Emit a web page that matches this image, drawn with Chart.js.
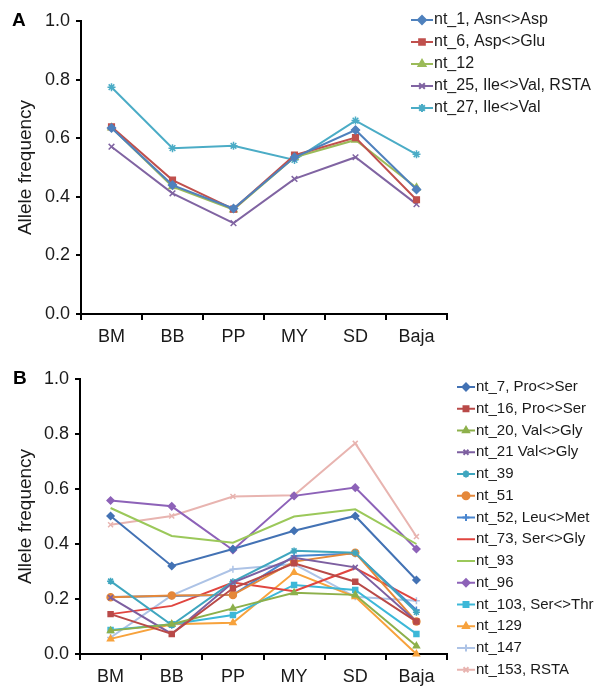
<!DOCTYPE html>
<html>
<head>
<meta charset="utf-8">
<script src="https://cdn.jsdelivr.net/npm/chart.js@4"></script>
<style>
  body { margin: 0; background: #fff; }
  canvas { display: block; }
</style>
</head>
<body>
<canvas id="chartA" width="601" height="350"></canvas>
<canvas id="chartB" width="601" height="340"></canvas>
<script>
// populations along the x axis
const populations = ["BM", "BB", "PP", "MY", "SD", "Baja"];
const yTicks = [0, 0.2, 0.4, 0.6, 0.8, 1.0];

// panel A
const namesA = ["nt_1, Asn<>Asp", "nt_6, Asp<>Glu", "nt_12", "nt_25, Ile<>Val, RSTA", "nt_27, Ile<>Val"];
const nt_1   = [0.635, 0.440, 0.360, 0.535, 0.628, 0.425];
const nt_6   = [0.639, 0.457, 0.358, 0.542, 0.602, 0.390];
const nt_12  = [0.636, 0.435, 0.356, 0.535, 0.594, 0.431];
const nt_25  = [0.571, 0.412, 0.310, 0.461, 0.535, 0.375];
const nt_27  = [0.774, 0.566, 0.574, 0.526, 0.660, 0.545];

// panel B
const namesB = ["nt_7, Pro<>Ser", "nt_16, Pro<>Ser", "nt_20, Val<>Gly", "nt_21 Val<>Gly", "nt_39", "nt_51",
  "nt_52, Leu<>Met", "nt_73, Ser<>Gly", "nt_93", "nt_96", "nt_103, Ser<>Thr", "nt_129", "nt_147", "nt_153, RSTA"];
const nt_7   = [0.502, 0.320, 0.382, 0.448, 0.502, 0.269];
const nt_16  = [0.145, 0.073, 0.239, 0.330, 0.263, 0.118];
const nt_20  = [0.085, 0.108, 0.166, 0.223, 0.215, 0.029];
const nt_21  = [0.205, 0.073, 0.260, 0.350, 0.315, 0.118];
const nt_39  = [0.265, 0.105, 0.263, 0.375, 0.368, 0.152];
const nt_51  = [0.206, 0.213, 0.215, 0.336, 0.368, 0.118];
const nt_52  = [0.207, 0.211, 0.215, 0.356, 0.365, 0.160];
const nt_73  = [0.145, 0.175, 0.260, 0.228, 0.312, 0.194];
const nt_93  = [0.531, 0.429, 0.405, 0.500, 0.526, 0.400];
const nt_96  = [0.558, 0.537, 0.378, 0.575, 0.605, 0.382];
const nt_103 = [0.087, 0.108, 0.142, 0.251, 0.233, 0.073];
const nt_129 = [0.055, 0.108, 0.114, 0.296, 0.208, 0.000];
const nt_147 = [0.060, 0.213, 0.308, 0.327, 0.208, 0.194];
const nt_153 = [0.470, 0.502, 0.573, 0.577, 0.766, 0.427];

const FONT = "'Liberation Sans', Arial, Helvetica, sans-serif";
const TEXT = "#1a1a1a";

function makeSet(label, data, color, marker, radius) {
  return {
    label: label,
    data: data,
    borderColor: color,
    backgroundColor: color,
    pointBackgroundColor: color,
    pointBorderColor: color,
    pointStyle: marker || "circle",
    pointRadius: marker ? radius : 0,
    pointHoverRadius: marker ? radius : 0,
    pointBorderWidth: 1.5,
    borderWidth: 2,
    tension: 0,
    clip: false
  };
}

// legend beside the plot, line + marker + text
const sideLegend = {
  id: "sideLegend",
  afterDraw(chart, args, opts) {
    const ctx = chart.ctx;
    ctx.save();
    ctx.textBaseline = "middle";
    ctx.textAlign = "left";
    chart.data.datasets.forEach((ds, i) => {
      const y = opts.y + i * opts.step;
      ctx.strokeStyle = ds.borderColor;
      ctx.lineWidth = 2;
      ctx.beginPath();
      ctx.moveTo(opts.x, y);
      ctx.lineTo(opts.x + opts.len, y);
      ctx.stroke();
      if (ds.pointRadius > 0) {
        ctx.fillStyle = ds.pointBackgroundColor;
        Chart.helpers.drawPoint(ctx, {
          pointStyle: ds.pointStyle, radius: ds.pointRadius, rotation: 0, borderWidth: 1.5
        }, opts.x + opts.len / 2, y);
      }
      ctx.fillStyle = TEXT;
      ctx.font = opts.size + "px " + FONT;
      ctx.fillText(ds.label, opts.x + opts.len + 1, y);
    });
    ctx.font = "bold 19px " + FONT;
    ctx.fillStyle = "#000";
    ctx.fillText(opts.letter, opts.lx, opts.ly);
    ctx.restore();
  }
};

function panelOptions(axisWidth, axisHeight, top, legend) {
  return {
    responsive: false,
    animation: false,
    layout: { padding: { top: top, right: 154, left: 0, bottom: 0 } },
    plugins: {
      legend: { display: false },
      tooltip: { enabled: false },
      sideLegend: legend
    },
    scales: {
      x: {
        type: "category",
        offset: true,
        afterFit: s => { s.height = axisHeight; },
        grid: { offset: true, drawOnChartArea: false, color: "#000", lineWidth: 2, tickLength: 6 },
        border: { color: "#000", width: 2 },
        ticks: { color: TEXT, font: { family: FONT, size: 18 }, padding: 6, maxRotation: 0 }
      },
      y: {
        min: 0,
        max: 1,
        afterFit: s => { s.width = axisWidth; },
        afterBuildTicks: s => { s.ticks = yTicks.map(v => ({ value: v })); },
        grid: { drawOnChartArea: false, color: "#000", lineWidth: 2, tickLength: 5 },
        border: { color: "#000", width: 2 },
        ticks: { color: TEXT, font: { family: FONT, size: 18 }, padding: 6, callback: v => v.toFixed(1) },
        title: {
          display: true, text: "Allele frequency", color: TEXT,
          font: { family: FONT, size: 19 }, padding: { top: 14, bottom: 0 }
        }
      }
    }
  };
}

const colorsA = ["#4F81BD", "#C0504D", "#9BBB59", "#8064A2", "#4BACC6"];
const markersA = ["rectRot", "rect", "triangle", "crossRot", "star"];
const valuesA = [nt_1, nt_6, nt_12, nt_25, nt_27];

new Chart(document.getElementById("chartA"), {
  type: "line",
  data: {
    labels: populations,
    datasets: valuesA.map((v, i) => makeSet(namesA[i], v, colorsA[i], markersA[i], 4))
  },
  options: panelOptions(81, 36, 21, { x: 411, len: 22, y: 20, step: 22, size: 16, letter: "A", lx: 12, ly: 21 }),
  plugins: [sideLegend]
});

const colorsB = ["#4372B4", "#B94A48", "#8DB04B", "#7D5FA0", "#3FA6BF", "#E5883A", "#4A86CF",
  "#E0453F", "#9BC85A", "#8D62B8", "#3DB8D8", "#F7A23C", "#ADC3E6", "#E8B4B0"];
const markersB = ["rectRot", "rect", "triangle", "crossRot", "star", "circle", "cross",
  null, null, "rectRot", "rect", "triangle", "cross", "crossRot"];
const valuesB = [nt_7, nt_16, nt_20, nt_21, nt_39, nt_51, nt_52, nt_73, nt_93, nt_96, nt_103, nt_129, nt_147, nt_153];

new Chart(document.getElementById("chartB"), {
  type: "line",
  data: {
    labels: populations,
    datasets: valuesB.map((v, i) => makeSet(namesB[i], v, colorsB[i], markersB[i], 3.5))
  },
  options: panelOptions(80, 36, 29, { x: 457, len: 18, y: 37, step: 21.75, size: 15, letter: "B", lx: 13, ly: 29 }),
  plugins: [sideLegend]
});
</script>
</body>
</html>
